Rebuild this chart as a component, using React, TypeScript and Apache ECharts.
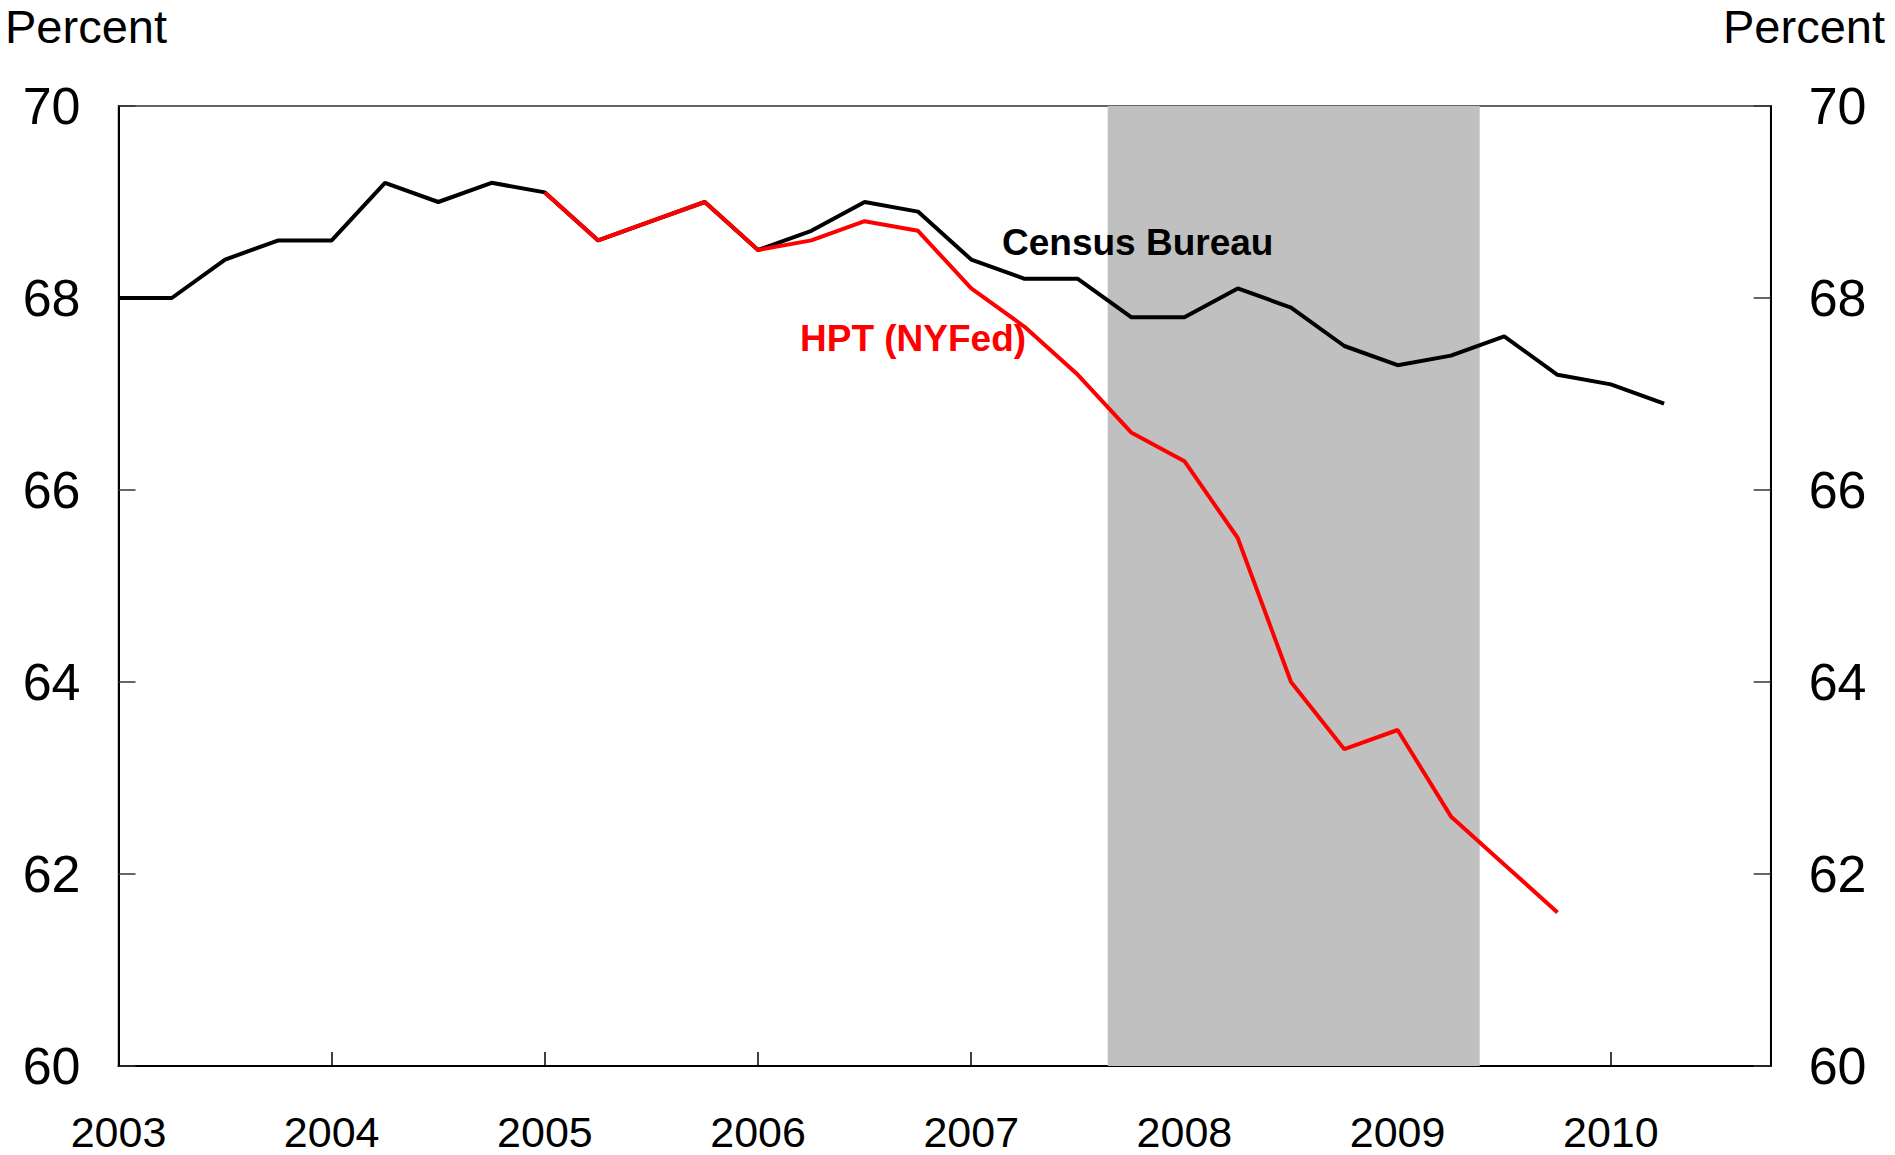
import React, { useEffect, useRef } from "react";
import * as echarts from "echarts";

const censusQuarters = [
  2003, 2003.25, 2003.5, 2003.75, 2004, 2004.25, 2004.5, 2004.75, 2005, 2005.25, 2005.5, 2005.75,
  2006, 2006.25, 2006.5, 2006.75, 2007, 2007.25, 2007.5, 2007.75, 2008, 2008.25, 2008.5, 2008.75,
  2009, 2009.25, 2009.5, 2009.75, 2010, 2010.25,
];
const censusValues = [
  68.0, 68.0, 68.4, 68.6, 68.6, 69.2, 69.0, 69.2, 69.1, 68.6, 68.8, 69.0,
  68.5, 68.7, 69.0, 68.9, 68.4, 68.2, 68.2, 67.8, 67.8, 68.1, 67.9, 67.5,
  67.3, 67.4, 67.6, 67.2, 67.1, 66.9,
];
const hptQuarters = [
  2005, 2005.25, 2005.5, 2005.75, 2006, 2006.25, 2006.5, 2006.75, 2007, 2007.25, 2007.5, 2007.75,
  2008, 2008.25, 2008.5, 2008.75, 2009, 2009.25, 2009.5, 2009.75,
];
const hptValues = [
  69.1, 68.6, 68.8, 69.0, 68.5, 68.6, 68.8, 68.7, 68.1, 67.7, 67.2, 66.6,
  66.3, 65.5, 64.0, 63.3, 63.5, 62.6, 62.1, 61.6,
];
const recession = [2007.64, 2009.385];
const xRange = [2003, 2010.75];
const yRange = [60, 70];
const yTickStep = 2;
const xTickStep = 1;

const FONT = "'Liberation Sans', Arial, sans-serif";

export default function App() {
  const ref = useRef<HTMLDivElement>(null);
  useEffect(() => {
    if (!ref.current) return;
    const chart = echarts.init(ref.current, undefined, { renderer: "svg" });
    const census = censusQuarters.map((q, i) => [q, censusValues[i]]);
    const hpt = hptQuarters.map((q, i) => [q, hptValues[i]]);
    const yAxisCommon = {
      type: "value" as const,
      min: yRange[0],
      max: yRange[1],
      interval: yTickStep,
      splitLine: { show: false },
      axisLine: { show: true, lineStyle: { color: "#000", width: 2 } },
      axisTick: { show: true, inside: true, length: 17, lineStyle: { color: "#333", width: 1.5 } },
      axisLabel: { fontFamily: FONT, fontSize: 52, color: "#000", margin: 38 },
    };
    chart.setOption({
      animation: false,
      backgroundColor: "#fff",
      grid: {
        left: 118.5,
        right: 124.3,
        top: 106,
        bottom: 89,
        show: true,
        borderColor: "#333",
        borderWidth: 1.5,
        containLabel: false,
      },
      xAxis: {
        type: "value",
        min: xRange[0],
        max: xRange[1],
        interval: xTickStep,
        splitLine: { show: false },
        axisLine: { show: true, lineStyle: { color: "#000", width: 2 } },
        axisTick: { show: true, inside: true, length: 14, lineStyle: { color: "#000", width: 1.5 } },
        axisLabel: {
          fontFamily: FONT,
          fontSize: 43,
          color: "#000",
          margin: 44,
          showMaxLabel: false,
          formatter: (v: number) => (Number.isInteger(v) ? String(v) : ""),
        },
      },
      yAxis: [
        { ...yAxisCommon, position: "left" },
        { ...yAxisCommon, position: "right" },
      ],
      series: [
        {
          type: "line",
          data: [],
          z: 1,
          silent: true,
          markArea: {
            silent: true,
            itemStyle: { color: "#c0c0c0", opacity: 1 },
            data: [[{ xAxis: recession[0] }, { xAxis: recession[1] }]],
          },
        },
        {
          name: "Census Bureau",
          type: "line",
          data: census,
          z: 3,
          symbol: "none",
          lineStyle: { color: "#000", width: 4 },
        },
        {
          name: "HPT (NYFed)",
          type: "line",
          data: hpt,
          z: 4,
          symbol: "none",
          lineStyle: { color: "#ff0000", width: 4 },
        },
      ],
      graphic: [
        {
          type: "text",
          left: 5,
          top: 3,
          style: { text: "Percent", font: `47px ${FONT}`, fill: "#000" },
        },
        {
          type: "text",
          right: 10,
          top: 3,
          style: { text: "Percent", font: `47px ${FONT}`, fill: "#000" },
        },
        {
          type: "text",
          left: 1002,
          top: 224,
          z: 10,
          style: { text: "Census Bureau", font: `bold 37px ${FONT}`, fill: "#000" },
        },
        {
          type: "text",
          left: 800,
          top: 320,
          z: 10,
          style: { text: "HPT (NYFed)", font: `bold 37px ${FONT}`, fill: "#ff0000" },
        },
      ],
    });
    return () => chart.dispose();
  }, []);
  return (
    <div
      ref={ref}
      style={{ position: "fixed", left: 0, top: 0, width: 1895, height: 1155, background: "#fff" }}
    />
  );
}
